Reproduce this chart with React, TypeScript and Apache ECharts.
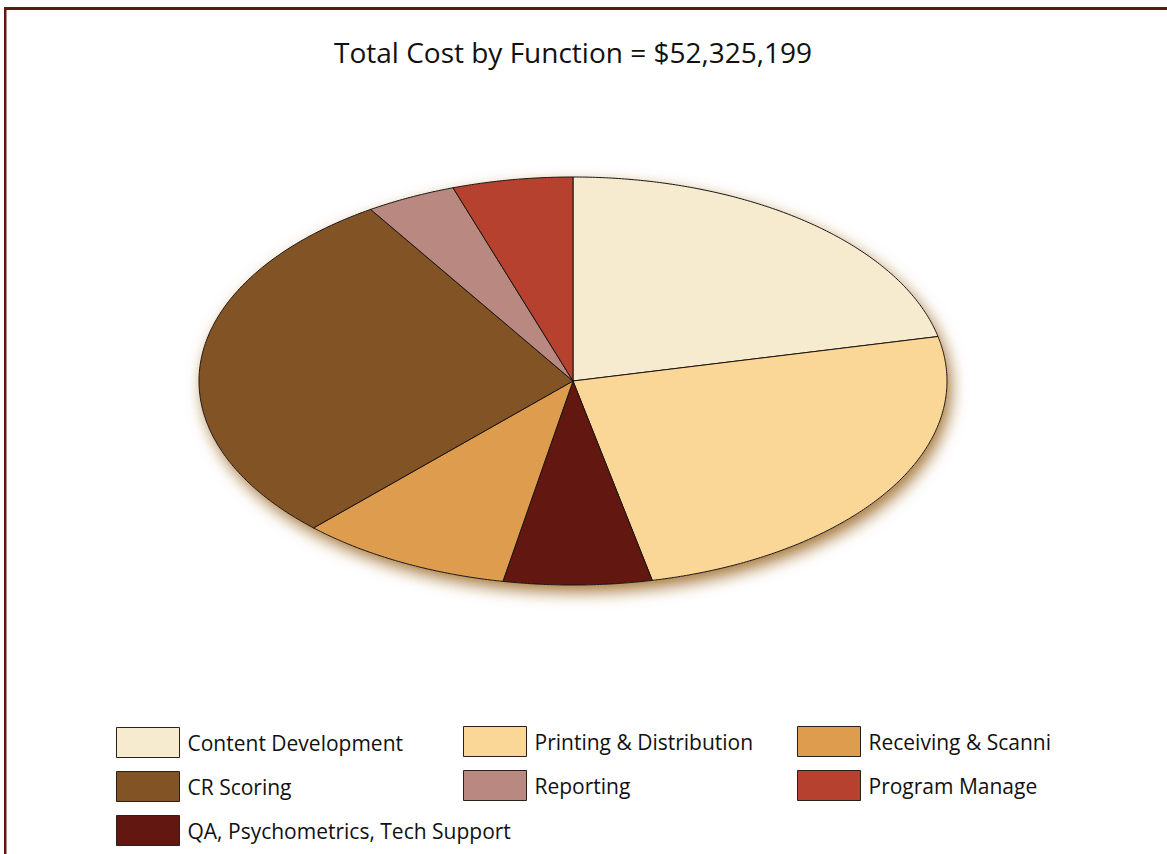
import React, { useEffect, useRef } from "react";
import * as echarts from "echarts";

// Slices in clockwise order starting at 12 o'clock
const categories = [
  "Content Development",
  "Printing & Distribution",
  "QA, Psychometrics, Tech Support",
  "Receiving & Scanning",
  "CR Scoring",
  "Reporting",
  "Program Management",
];
const costs = [11250000, 13134000, 3349000, 4814000, 15017000, 2041000, 2720199];
const colors = ["#F6EBCF", "#FBD797", "#621710", "#DD9C4E", "#815325", "#B98880", "#B5412E"];
const totalLabel = "$52,325,199";

const legendCol1 = ["Content Development", "CR Scoring", "QA, Psychometrics, Tech Support"];
const legendCol2 = ["Printing & Distribution", "Reporting"];
const legendCol3 = ["Receiving & Scanning", "Program Management"];

const FONT = "'Open Sans', sans-serif";

export default function App() {
  const ref = useRef<HTMLDivElement>(null);
  useEffect(() => {
    if (!ref.current) return;
    const chart = echarts.init(ref.current, undefined, { renderer: "svg" });
    const total = costs.reduce((a, b) => a + b, 0);
    const cum: number[] = [0];
    costs.forEach((c, i) => cum.push(cum[i] + c));

    const ellipsePoint = (api: any, t: number) => {
      const w = api.getWidth();
      const cx = w * 0.491;
      const cy = 381;
      const rx = 374;
      const ry = 204;
      return [cx + rx * Math.sin(t), cy - ry * Math.cos(t)];
    };

    const makeSeries = (i: number) => ({
      type: "custom",
      name: categories[i],
      coordinateSystem: "none",
      itemStyle: { color: colors[i] },
      data: [[costs[i]]],
      silent: true,
      renderItem: (params: any, api: any) => {
        const w = api.getWidth();
        const center = [w * 0.491, 381];
        const a0 = (cum[i] / total) * Math.PI * 2;
        const a1 = (cum[i + 1] / total) * Math.PI * 2;
        const steps = Math.max(4, Math.ceil(((a1 - a0) * 180) / Math.PI) * 2);
        const pts: number[][] = [center];
        for (let k = 0; k <= steps; k++) {
          pts.push(ellipsePoint(api, a0 + ((a1 - a0) * k) / steps));
        }
        const slice = {
          type: "polygon",
          shape: { points: pts },
          style: { fill: colors[i], stroke: "#1c1410", lineWidth: 1 },
        };
        if (i === 0) {
          const full: number[][] = [];
          for (let k = 0; k < 720; k++) full.push(ellipsePoint(api, (k / 720) * Math.PI * 2));
          return {
            type: "group",
            children: [
              {
                type: "polygon",
                shape: { points: full },
                style: {
                  fill: "#ffffff",
                  shadowBlur: 16,
                  shadowColor: "rgba(150,95,25,0.85)",
                  shadowOffsetX: 4,
                  shadowOffsetY: 7,
                },
              },
              slice,
            ],
          };
        }
        return slice;
      },
    });

    const legendBase = {
      orient: "vertical",
      icon: "rect",
      itemWidth: 63,
      itemHeight: 30,
      itemGap: 13,
      padding: 0,
      height: 125,
      selectedMode: false,
      itemStyle: { borderColor: "#2a2018", borderWidth: 1 },
      textStyle: { fontFamily: FONT, fontSize: 21, color: "#111", padding: [0, 0, 0, 3] },
    };

    chart.setOption({
      animation: false,
      backgroundColor: "#ffffff",
      title: {
        text: "Total Cost by Function = " + totalLabel,
        left: 334,
        top: 38,
        padding: 0,
        textStyle: { fontFamily: FONT, fontSize: 28, fontWeight: "normal", color: "#111" },
      },
      legend: [
        { ...legendBase, data: legendCol1, left: 116, top: 727 },
        { ...legendBase, data: legendCol2, left: 463, top: 726 },
        {
          ...legendBase,
          data: legendCol3,
          left: 797,
          top: 726,
          textStyle: { ...legendBase.textStyle, width: 189, overflow: "truncate", ellipsis: "" },
        },
      ],
      graphic: [
        { type: "rect", shape: { x: 4, y: 7, width: 1163, height: 3 }, style: { fill: "#5e1a12" } },
        { type: "rect", shape: { x: 4, y: 7, width: 2.5, height: 847 }, style: { fill: "#5e1a12" } },
      ],
      series: categories.map((_, i) => makeSeries(i)),
    });
    return () => chart.dispose();
  }, []);
  return (
    <div
      ref={ref}
      style={{ position: "fixed", left: 0, top: 0, width: 1167, height: 854 }}
    />
  );
}
